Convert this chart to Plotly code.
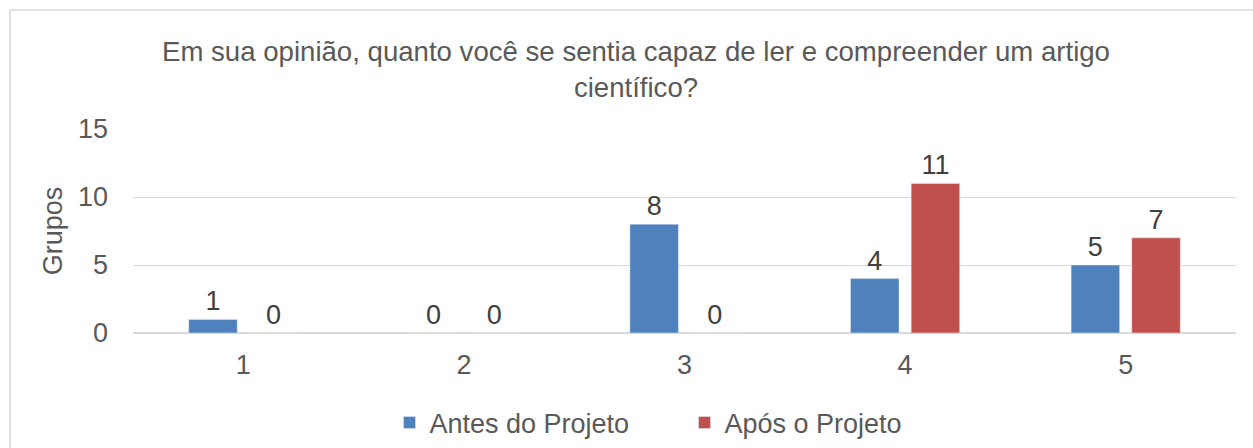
import plotly.graph_objects as go

categories = ["1", "2", "3", "4", "5"]
antes = [1, 0, 8, 4, 5]
apos = [0, 0, 0, 11, 7]
series_names = ["Antes do Projeto", "Após o Projeto"]
title_text = "Em sua opinião, quanto você se sentia capaz de ler e compreender um artigo<br>científico?"
y_ticks = [0, 5, 10, 15]

FONT = "Liberation Sans, Arial, sans-serif"
FS = 27

fig = go.Figure()
fig.add_trace(go.Bar(x=categories, y=antes, name=series_names[0], marker_color="#4F81BD",
                     text=antes, textposition="outside", cliponaxis=False,
                     textfont=dict(size=FS, color="#404040", family=FONT)))
fig.add_trace(go.Bar(x=categories, y=apos, name=series_names[1], marker_color="#C0504D",
                     text=apos, textposition="outside", cliponaxis=False,
                     textfont=dict(size=FS, color="#404040", family=FONT)))

L, R, T, B = 133, 17, 129, 115
W, H = 1253, 448
pw = W - L - R
ph = H - T - B

fig.update_layout(
    width=W, height=H,
    margin=dict(l=L, r=R, t=T, b=B, pad=0, autoexpand=False),
    paper_bgcolor="white", plot_bgcolor="white",
    font=dict(family=FONT, size=FS, color="#595959"),
    barmode="group", bargap=0.45, bargroupgap=0.2,
    title=dict(text=title_text, x=636 / W, xref="container", xanchor="center",
               y=1 - 61 / H, yref="container", yanchor="top",
               font=dict(size=27.6, color="#595959", family=FONT)),
    xaxis=dict(showgrid=False, showline=False, ticks="", ticklabelstandoff=13, automargin=False,
               tickfont=dict(size=FS, color="#595959")),
    yaxis=dict(range=[0, 15], tickvals=y_ticks, showgrid=True, gridcolor="#D9D9D9",
               gridwidth=1, zeroline=True, zerolinecolor="#D9D9D9", showline=False,
               ticks="", ticklabelstandoff=24, automargin=False,
               tickfont=dict(size=FS, color="#595959"),
               title=dict(text="Grupos", standoff=7, font=dict(size=FS, color="#595959"))),
    legend=dict(orientation="h", x=0.5, xanchor="center", y=(333 - 423) / ph, yanchor="middle",
                font=dict(size=FS, color="#595959"), itemclick=False,
                entrywidth=250, entrywidthmode="pixels"),
    showlegend=True,
)

# chart frame border
fig.add_shape(type="rect", xref="paper", yref="paper",
              x0=(10 - L) / pw, x1=(W + 20 - L) / pw,
              y0=(333 - (H + 20)) / ph, y1=(333 - 10) / ph,
              line=dict(color="#D9D9D9", width=1.5), fillcolor="rgba(0,0,0,0)", layer="below")

fig.write_html("out.html", config={"displayModeBar": False},
               post_script="document.body.style.margin='0';")
